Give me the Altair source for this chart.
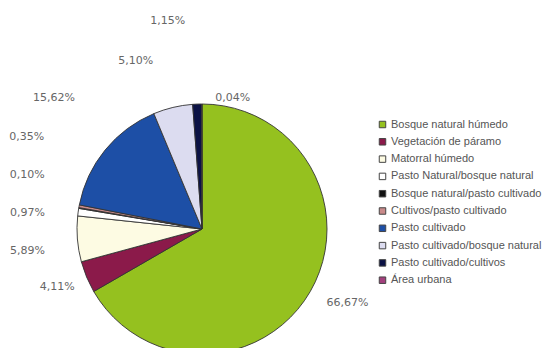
import math
import altair as alt
import pandas as pd

categories = [
    "Bosque natural húmedo",
    "Vegetación de páramo",
    "Matorral húmedo",
    "Pasto Natural/bosque natural",
    "Bosque natural/pasto cultivado",
    "Cultivos/pasto cultivado",
    "Pasto cultivado",
    "Pasto cultivado/bosque natural",
    "Pasto cultivado/cultivos",
    "Área urbana",
]
values = [66.67, 4.11, 5.89, 0.97, 0.10, 0.35, 15.62, 5.10, 1.15, 0.04]
labels = ["66,67%", "4,11%", "5,89%", "0,97%", "0,10%", "0,35%", "15,62%", "5,10%", "1,15%", "0,04%"]
colors = ["#95c11f", "#8b1a4a", "#fdfbe3", "#ffffff", "#111111",
          "#c98a8a", "#1d4fa6", "#dcdcf0", "#0b1245", "#a3407d"]

df = pd.DataFrame({
    "categoria": categories,
    "valor": values,
    "etiqueta": labels,
    "orden": list(range(len(categories))),
})

# label nudges (style only): dx, dy from the radial anchor
nudges = {
    "66,67%": (7, -6), "4,11%": (3, -3), "5,89%": (-15, 9), "0,97%": (-16, 6),
    "0,10%": (-17, -27), "0,35%": (-18, -63), "15,62%": (-24, -30),
    "5,10%": (-29, -12), "1,15%": (-28, -48), "0,04%": (31, 29),
}

CX, CY = 194, 221

pie = alt.Chart(df).mark_arc(outerRadius=125, stroke="#333333", strokeWidth=0.9).encode(
    theta=alt.Theta("valor:Q", stack=True),
    order=alt.Order("orden:Q"),
    x=alt.value(CX),
    y=alt.value(CY),
    color=alt.Color(
        "categoria:N",
        scale=alt.Scale(domain=categories, range=colors),
        sort=categories,
        legend=alt.Legend(
            title=None, orient="none", legendX=369, legendY=111,
            symbolType="square", symbolSize=42, symbolStrokeColor="#444444",
            symbolStrokeWidth=1, labelFontSize=11, labelFont="Liberation Sans",
            labelColor="#555555", rowPadding=5.3, padding=0, labelOffset=3,
            labelLimit=300,
        ),
    ),
)

text_base = alt.Chart(df).transform_window(
    acum="sum(valor)", sort=[alt.SortField("orden")]
).transform_joinaggregate(
    total="sum(valor)"
).transform_calculate(
    medio="(datum.acum - datum.valor / 2) / datum.total"
).encode(
    theta=alt.Theta("medio:Q", stack=False,
                    scale=alt.Scale(domain=[0, 1], range=[0, 2 * math.pi])),
    x=alt.value(CX),
    y=alt.value(CY),
    text="etiqueta:N",
)

layers = [pie]
for lab, (dx, dy) in nudges.items():
    layers.append(
        text_base.transform_filter(alt.datum.etiqueta == lab).mark_text(
            radius=160, dx=dx, dy=dy, fontSize=11, font="DejaVu Sans",
            color="#666666", align="center", baseline="middle",
        )
    )

chart = alt.layer(*layers).resolve_scale(theta="independent").properties(
    width=539, height=340, autosize=alt.AutoSizeParams(type="none"), padding=0,
).configure_view(stroke=None)

chart.save("out.html", embed_options={"renderer": "svg", "actions": False})
